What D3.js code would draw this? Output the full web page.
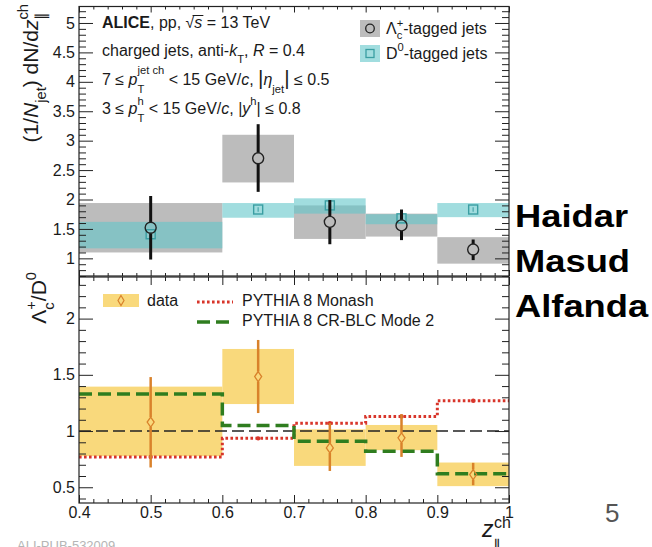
<!DOCTYPE html>
<html><head><meta charset="utf-8">
<script src="https://cdn.jsdelivr.net/npm/d3@7"></script>
<style>
body{margin:0;background:#fff}
svg{display:block}
text{font-family:"Liberation Sans",Arial,Helvetica,sans-serif;white-space:pre}
</style>
</head><body>
<svg id="c" width="652" height="547" xmlns="http://www.w3.org/2000/svg"></svg>
<script>
// ---------- data ----------
const binEdges = [0.4, 0.6, 0.7, 0.8, 0.9, 1.0];
const zCenters = [0.5, 0.65, 0.75, 0.85, 0.95];

const lcVal    = [1.52, 2.70, 1.62, 1.56, 1.15];
const lcStatLo = [0.98, 2.13, 1.24, 1.31, 0.97];
const lcStatHi = [2.06, 3.28, 1.99, 1.83, 1.32];
const lcSysLo  = [1.10, 2.29, 1.33, 1.37, 0.91];
const lcSysHi  = [1.94, 3.10, 1.90, 1.76, 1.36];

const d0Val    = [1.41, 1.83, 1.90, 1.68, 1.83];
const d0StatLo = [1.37, 1.79, 1.86, 1.64, 1.79];
const d0StatHi = [1.45, 1.87, 1.94, 1.72, 1.87];
const d0SysLo  = [1.17, 1.69, 1.76, 1.58, 1.70];
const d0SysHi  = [1.62, 1.94, 2.02, 1.75, 1.94];

const ratioVal    = [1.08, 1.485, 0.85, 0.94, 0.613];
const ratioStatLo = [0.676, 1.16, 0.645, 0.77, 0.518];
const ratioStatHi = [1.48, 1.81, 1.07, 1.15, 0.717];
const ratioSysLo  = [0.777, 1.24, 0.69, 0.83, 0.51];
const ratioSysHi  = [1.395, 1.73, 1.015, 1.054, 0.72];

const monash = [0.77, 0.935, 1.07, 1.13, 1.27];
const crblc  = [1.33, 1.05, 0.91, 0.82, 0.62];

const xTicks = [0.4, 0.5, 0.6, 0.7, 0.8, 0.9, 1.0];
const yTopTicks = [1, 1.5, 2, 2.5, 3, 3.5, 4, 4.5, 5];
const yBotTicks = [0.5, 1, 1.5, 2];

// ---------- scales ----------
const svg = d3.select("#c");
const x = d3.scaleLinear().domain([0.4, 1.0]).range([79, 509]);
const yTop = d3.scaleLinear().domain([0.7, 5.28]).range([276, 6.5]);
const yBot = d3.scaleLinear().domain([0.36, 2.37]).range([503, 277]);

const TXT = "#1a1a1a";

// rich text helper
function rich(parent, x0, y0, size, runs, opt) {
  opt = opt || {};
  const subOff = opt.sub != null ? opt.sub : 0.38;
  const supOff = opt.sup != null ? opt.sup : 0.5;
  const g = parent.append("g");
  let cx = x0;
  function put(r, kind) {
    const fs = kind ? size * 0.7 : size * (r.scale || 1);
    const dy = kind === 'sub' ? size * subOff : kind === 'sup' ? -size * supOff : 0;
    const t = g.append("text")
      .attr("x", cx + (r.dx || 0)).attr("y", y0 + dy + (r.dy || 0))
      .attr("font-size", fs).attr("fill", TXT)
      .attr("font-style", r.i ? "italic" : null)
      .attr("font-weight", r.b ? "bold" : null)
      .text(r.t);
    return t.node().getComputedTextLength() + (r.dx || 0);
  }
  const pos = [];
  runs.forEach(r => {
    const s = cx;
    if (r.stack) {
      const a = put(r.stack[0], 'sub'), b = put(r.stack[1], 'sup');
      cx += Math.max(a, b);
    } else {
      cx += put(r, r.sub ? 'sub' : (r.sup ? 'sup' : null));
    }
    pos.push([s, cx]);
  });
  return {g, width: cx - x0, pos};
}

// ---------- axes helper ----------
function frame(y, yMajor, yLo, yHi, yTop0, yBot0, xMaj, xMin, showX) {
  const g = svg.append("g");
  const yMinor = d3.range(Math.round(yLo * 10), Math.round(yHi * 10) + 1).map(v => v / 10)
    .filter(v => !yMajor.some(m => Math.abs(m - v) < 1e-6));
  const xMinor = d3.range(20, 51).map(v => v / 50)
    .filter(v => !xTicks.some(m => Math.abs(m - v) < 1e-6));
  g.append("g").attr("transform", "translate(79,0)")
    .call(d3.axisLeft(y).tickValues(yMinor).tickSize(-7).tickFormat(""));
  g.append("g").attr("transform", "translate(79,0)")
    .call(d3.axisLeft(y).tickValues(yMajor).tickSize(-14).tickPadding(4).tickFormat(d3.format("~g")));
  g.append("g").attr("transform", "translate(509,0)")
    .call(d3.axisRight(y).tickValues(yMinor).tickSize(-7).tickFormat(""));
  g.append("g").attr("transform", "translate(509,0)")
    .call(d3.axisRight(y).tickValues(yMajor).tickSize(-14).tickFormat(""));
  g.append("g").attr("transform", `translate(0,${yBot0})`)
    .call(d3.axisBottom(x).tickValues(xMinor).tickSize(-xMin).tickFormat(""));
  g.append("g").attr("transform", `translate(0,${yBot0})`)
    .call(d3.axisBottom(x).tickValues(xTicks).tickSize(-xMaj).tickPadding(4)
      .tickFormat(showX ? d3.format("~g") : ""));
  g.append("g").attr("transform", `translate(0,${yTop0})`)
    .call(d3.axisTop(x).tickValues(xMinor).tickSize(-xMin).tickFormat(""));
  g.append("g").attr("transform", `translate(0,${yTop0})`)
    .call(d3.axisTop(x).tickValues(xTicks).tickSize(-xMaj).tickFormat(""));
  g.selectAll(".domain").remove();
  g.selectAll("line").attr("stroke", "#222").attr("stroke-width", 1);
  g.selectAll("text").attr("font-size", 16).attr("fill", TXT)
    .attr("font-family", "Liberation Sans, Arial, sans-serif");
  g.append("rect").attr("x", 79).attr("y", yTop0).attr("width", 430).attr("height", yBot0 - yTop0)
    .attr("fill", "none").attr("stroke", "#222").attr("stroke-width", 1.2);
  return g;
}

// ---------- top panel ----------
const topG = svg.append("g");
const bw = i => x(binEdges[i + 1]) - x(binEdges[i]);
const TEAL = "rgba(98,198,202,0.6)";
topG.selectAll("rect.lcsys").data(zCenters).join("rect")
  .attr("x", (d, i) => x(binEdges[i])).attr("width", (d, i) => bw(i))
  .attr("y", (d, i) => yTop(lcSysHi[i])).attr("height", (d, i) => yTop(lcSysLo[i]) - yTop(lcSysHi[i]))
  .attr("fill", "#bcbcbc");
topG.selectAll("rect.d0sys").data(zCenters).join("rect")
  .attr("x", (d, i) => x(binEdges[i])).attr("width", (d, i) => bw(i))
  .attr("y", (d, i) => yTop(d0SysHi[i])).attr("height", (d, i) => yTop(d0SysLo[i]) - yTop(d0SysHi[i]))
  .attr("fill", TEAL);

zCenters.forEach((z, i) => {
  const cx = x(z), cy = yTop(d0Val[i]);
  topG.append("line").attr("x1", cx).attr("x2", cx).attr("y1", yTop(d0StatHi[i])).attr("y2", yTop(d0StatLo[i]))
    .attr("stroke", "#3d9fa3").attr("stroke-width", 1.5);
  topG.append("rect").attr("x", cx - 4.5).attr("y", cy - 4.5).attr("width", 9).attr("height", 9)
    .attr("fill", "rgba(160,220,222,0.3)").attr("stroke", "#3a9ea2").attr("stroke-width", 1.4);
});
const R = 5.5;
zCenters.forEach((z, i) => {
  const cx = x(z), cy = yTop(lcVal[i]);
  topG.append("line").attr("x1", cx).attr("x2", cx).attr("y1", yTop(lcStatHi[i])).attr("y2", cy - R)
    .attr("stroke", "#111").attr("stroke-width", 3);
  topG.append("line").attr("x1", cx).attr("x2", cx).attr("y1", cy + R).attr("y2", yTop(lcStatLo[i]))
    .attr("stroke", "#111").attr("stroke-width", 3);
  topG.append("circle").attr("cx", cx).attr("cy", cy).attr("r", R)
    .attr("fill", "none").attr("stroke", "#222").attr("stroke-width", 1.4);
});

frame(yTop, yTopTicks, 0.7, 5.2, 6.5, 276, 6, 3, false);

// top legend
svg.append("rect").attr("x", 360).attr("y", 20).attr("width", 20).attr("height", 17).attr("fill", "#bcbcbc");
svg.append("circle").attr("cx", 370).attr("cy", 28.5).attr("r", 4.3).attr("fill", "none").attr("stroke", "#222").attr("stroke-width", 1.3);
svg.append("rect").attr("x", 360).attr("y", 45).attr("width", 20).attr("height", 17).attr("fill", TEAL);
svg.append("rect").attr("x", 366).attr("y", 49.5).attr("width", 8).attr("height", 8).attr("fill", "none").attr("stroke", "#3a9ea2").attr("stroke-width", 1.3);
rich(svg, 386, 34, 16, [{t: "Λ"}, {stack: [{t: "c"}, {t: "+"}]}, {t: "-tagged jets"}], {sub: 0.3, sup: 0.45});
rich(svg, 386, 59, 16, [{t: "D"}, {t: "0", sup: true}, {t: "-tagged jets"}]);

// annotations
const l1 = rich(svg, 102, 28, 16, [{t: "ALICE", b: true}, {t: ", pp, "}, {t: "√"}, {t: "s", i: true}, {t: " = 13 TeV"}]);
svg.append("line").attr("x1", l1.pos[2][0] + 7).attr("x2", l1.pos[3][1] + 1).attr("y1", 15.5).attr("y2", 15.5)
  .attr("stroke", TXT).attr("stroke-width", 1);
rich(svg, 102, 56, 16, [{t: "charged jets, anti-"}, {t: "k", i: true}, {t: "T", sub: true}, {t: ", "}, {t: "R", i: true}, {t: " = 0.4"}], {sub: 0.42});
rich(svg, 102, 85, 16, [{t: "7 ≤ "}, {t: "p", i: true}, {stack: [{t: "T"}, {t: "jet ch"}]}, {t: " < 15 GeV/"}, {t: "c", i: true}, {t: ", "}, {t: "|", scale: 1.3}, {t: "η", i: true}, {t: "jet", sub: true}, {t: "|", scale: 1.3}, {t: " ≤ 0.5"}], {sub: 0.5, sup: 0.7});
rich(svg, 102, 114, 16, [{t: "3 ≤ "}, {t: "p", i: true}, {stack: [{t: "T"}, {t: "h"}]}, {t: " < 15 GeV/"}, {t: "c", i: true}, {t: ", |"}, {t: "y", i: true}, {t: "h", sup: true}, {t: "| ≤ 0.8"}], {sub: 0.5, sup: 0.55});

// ---------- bottom panel ----------
const botG = svg.append("g");
botG.selectAll("rect.rsys").data(zCenters).join("rect")
  .attr("x", (d, i) => x(binEdges[i])).attr("width", (d, i) => bw(i))
  .attr("y", (d, i) => yBot(ratioSysHi[i])).attr("height", (d, i) => yBot(ratioSysLo[i]) - yBot(ratioSysHi[i]))
  .attr("fill", "#f9d97c");
botG.append("line").attr("x1", x(0.4)).attr("x2", x(1.0)).attr("y1", yBot(1)).attr("y2", yBot(1))
  .attr("stroke", "#222").attr("stroke-width", 1.5).attr("stroke-dasharray", "12,5");

const stepPts = arr => binEdges.map((e, i) => [e, arr[Math.min(i, arr.length - 1)]]);
const stepLine = d3.line().x(d => x(d[0])).y(d => yBot(d[1])).curve(d3.curveStepAfter);
botG.append("path").attr("d", stepLine(stepPts(monash))).attr("fill", "none")
  .attr("stroke", "#d8352a").attr("stroke-width", 3).attr("stroke-dasharray", "2.6,2.4");
botG.append("path").attr("d", stepLine(stepPts(crblc))).attr("fill", "none")
  .attr("stroke", "#2f7d1f").attr("stroke-width", 3.5).attr("stroke-dasharray", "13,6");
zCenters.forEach((z, i) => {
  botG.append("circle").attr("cx", x(z)).attr("cy", yBot(monash[i])).attr("r", 2.2).attr("fill", "#d8352a");
});

const ORG = "#d9822b";
zCenters.forEach((z, i) => {
  const cx = x(z), cy = yBot(ratioVal[i]);
  botG.append("line").attr("x1", cx).attr("x2", cx).attr("y1", yBot(ratioStatHi[i])).attr("y2", cy - 5)
    .attr("stroke", ORG).attr("stroke-width", 2.5);
  botG.append("line").attr("x1", cx).attr("x2", cx).attr("y1", cy + 5).attr("y2", yBot(ratioStatLo[i]))
    .attr("stroke", ORG).attr("stroke-width", 2.5);
  botG.append("path").attr("d", `M${cx},${cy - 5}L${cx + 3.5},${cy}L${cx},${cy + 5}L${cx - 3.5},${cy}Z`)
    .attr("fill", "none").attr("stroke", ORG).attr("stroke-width", 1.3);
});

frame(yBot, yBotTicks, 0.4, 2.3, 277, 503, 8, 4, true);

// bottom legend
svg.append("rect").attr("x", 103).attr("y", 294).attr("width", 36).attr("height", 13).attr("fill", "#f9d97c");
svg.append("path").attr("d", "M121,295.5L124,300.5L121,305.5L118,300.5Z").attr("fill", "none").attr("stroke", ORG).attr("stroke-width", 1.2);
svg.append("text").attr("x", 147).attr("y", 306).attr("font-size", 16).attr("fill", TXT).text("data");
svg.append("line").attr("x1", 197).attr("x2", 233).attr("y1", 302).attr("y2", 302)
  .attr("stroke", "#d8352a").attr("stroke-width", 3).attr("stroke-dasharray", "2.6,2.4");
svg.append("text").attr("x", 242).attr("y", 306).attr("font-size", 16).attr("fill", TXT).text("PYTHIA 8 Monash");
svg.append("line").attr("x1", 197).attr("x2", 233).attr("y1", 322).attr("y2", 322)
  .attr("stroke", "#2f7d1f").attr("stroke-width", 3.5).attr("stroke-dasharray", "13,6");
svg.append("text").attr("x", 242).attr("y", 326).attr("font-size", 16).attr("fill", TXT).text("PYTHIA 8 CR-BLC Mode 2");

// ---------- axis titles ----------
function vlabel(bx, yEnd, size, runs) {
  const g = svg.append("g").attr("transform", `translate(${bx},${yEnd}) rotate(-90)`);
  const inner = g.append("g");
  const r = rich(inner, 0, 0, size, runs);
  inner.attr("transform", `translate(${-r.width},0)`);
}
vlabel(38, 4, 21, [{t: "(1/"}, {t: "N", i: true}, {t: "jet", sub: true}, {t: ") d"}, {t: "N"}, {t: "/d"}, {t: "z", i: true}, {stack: [{t: "∥"}, {t: "ch"}]}]);
vlabel(46, 272, 21, [{t: "Λ"}, {stack: [{t: "c"}, {t: "+"}]}, {t: "/D"}, {t: "0", sup: true}]);

svg.append("text").attr("x", 482).attr("y", 537).attr("font-size", 23).attr("font-style", "italic").attr("fill", TXT).text("z");
svg.append("text").attr("x", 494).attr("y", 528).attr("font-size", 16).attr("fill", TXT).text("ch");
svg.append("text").attr("x", 493).attr("y", 551).attr("font-size", 16).attr("fill", TXT).text("∥");

// ---------- slide extras ----------
["Haidar", "Masud", "Alfanda"].forEach((s, i) => {
  svg.append("text").attr("transform", `translate(515,${227 + i * 45}) scale(1.135,1)`)
    .attr("font-size", 32).attr("font-weight", "bold").attr("fill", "#000").text(s);
});
svg.append("text").attr("x", 605).attr("y", 522).attr("font-size", 26).attr("fill", "#555").text("5");
svg.append("text").attr("x", 17).attr("y", 550).attr("font-size", 13).attr("fill", "#b5b5b5").text("ALI-PUB-532009");
</script>
</body></html>
